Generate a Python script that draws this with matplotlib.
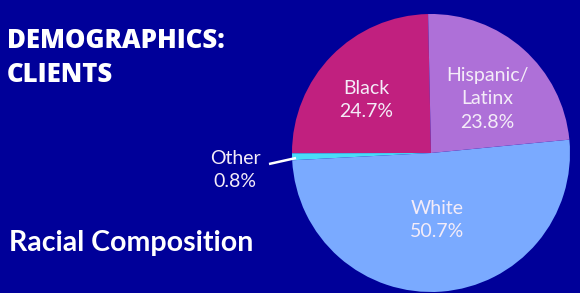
import matplotlib
matplotlib.use("Agg")
import matplotlib.pyplot as plt

categories = ["Black", "Other", "White", "Hispanic/\nLatinx"]
shares = [24.7, 0.8, 50.7, 23.8]
colors = ["#C1207F", "#4ADCF8", "#7AAAFF", "#AE70D8"]
title = "DEMOGRAPHICS:\nCLIENTS"
subtitle = "Racial Composition"

BG = "#000099"
W, H = 580, 293
fig = plt.figure(figsize=(W / 100, H / 100), dpi=100, facecolor=BG)
ax = fig.add_axes([0, 0, 1, 1])
ax.set_facecolor(BG)

cx, cy, r = 431, H - 153, 139
ax.pie(shares, colors=colors, startangle=91.2, counterclock=True,
       center=(cx, cy), radius=r, wedgeprops=dict(linewidth=0))
ax.set_xlim(0, W)
ax.set_ylim(0, H)
ax.set_aspect("equal")
ax.axis("off")

lab_font = dict(family=["Lato", "DejaVu Sans"], weight="normal", color="#F4ECF8",
                fontsize=14, ha="center", va="center", linespacing=1.45)

def fmt(v):
    return f"{v:.1f}%"

# label positions (pixel coordinates from top-left)
pos = {"Black": (366, 100), "White": (437, 220), "Hispanic/\nLatinx": (487, 99), "Other": (235, 170)}
for cat, v in zip(categories, shares):
    px, py = pos[cat]
    ax.text(px, H - py, f"{cat}\n{fmt(v)}", **lab_font)

# leader line for Other
ax.plot([269, 296], [H - 164, H - 158], color="white", lw=1.8, solid_capstyle="butt")

ax.text(7, H - 58, title, family=["Open Sans", "DejaVu Sans"], weight="extra bold", color="white",
        fontsize=18.5, ha="left", va="center", linespacing=1.38)
ax.text(9, H - 243, subtitle, family=["Lato", "DejaVu Sans"], weight="bold", color="white",
        fontsize=20.5, ha="left", va="center")

fig.savefig("out.png", dpi=100, facecolor=BG)
